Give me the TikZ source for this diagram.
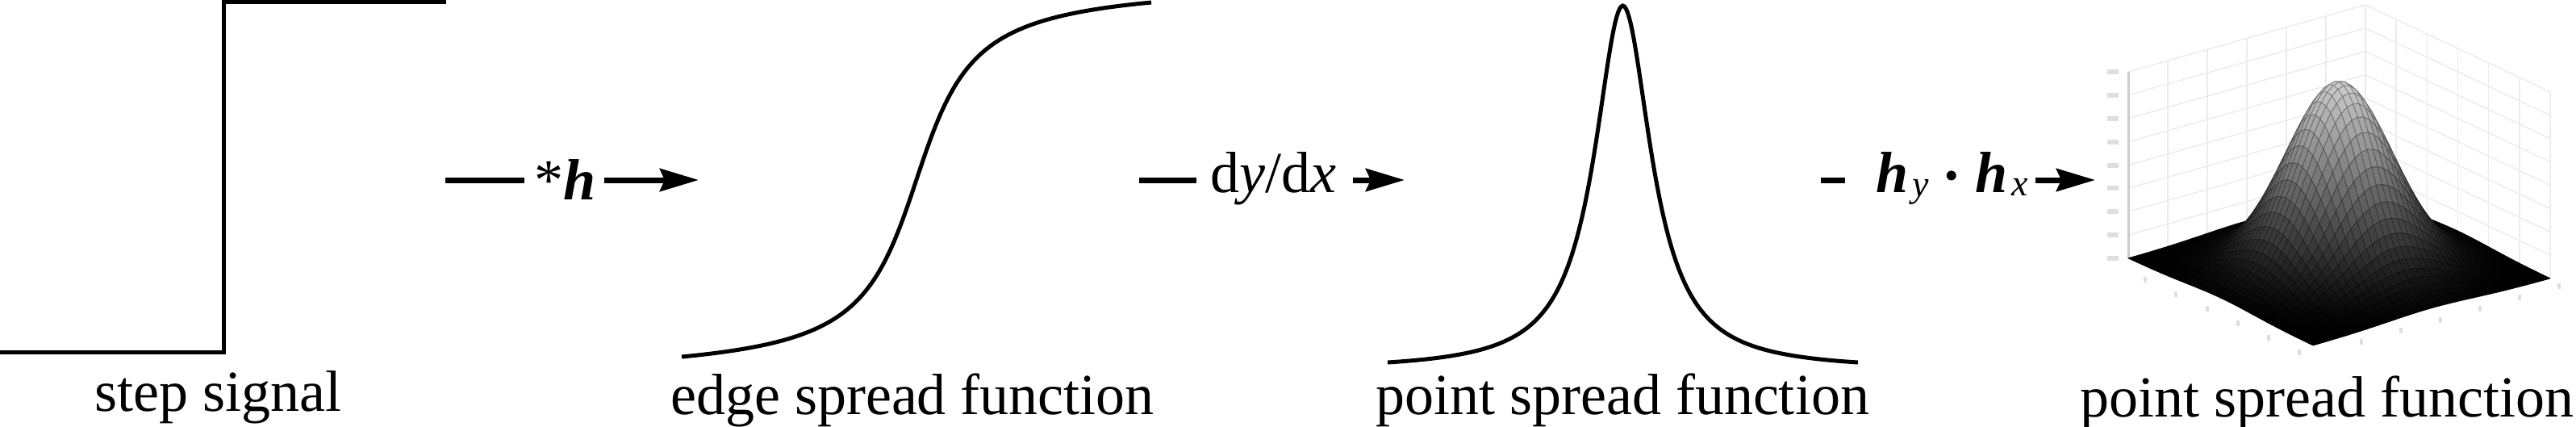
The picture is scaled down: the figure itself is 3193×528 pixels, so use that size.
\documentclass[tikz,border=0pt]{standalone}
\usepackage{fontspec}
\setmainfont{Liberation Serif}
\usetikzlibrary{arrows.meta}
\begin{document}
\begin{tikzpicture}[x=1pt,y=-1pt,
  curve/.style={line width=5pt, line join=miter},
  conn/.style={line width=7pt},
  connarrow/.style={line width=7pt, -{Stealth[length=48pt,width=28pt,inset=6pt]}},
  caption/.style={font=\fontsize{72}{80}\selectfont, anchor=base, inner sep=0pt},
  oplabel/.style={font=\fontsize{72}{80}\selectfont, anchor=base west, inner sep=0pt},
  wallgrid/.style={line width=1.5pt, draw={rgb,255:red,236;green,236;blue,236}},
  zaxis/.style={line width=3pt, draw={rgb,255:red,205;green,205;blue,205}},
  ticklab/.style={fill={rgb,255:red,222;green,222;blue,222}},
]
\useasboundingbox (0,0) rectangle (3193,528);

% ---------- step signal ----------
\draw[curve] (0,436) -- (277,436) -- (277,2.5) -- (553,2.5);
\node[caption] (capstep) at (270,509) {step signal};

% ---------- arrow 1 : *h ----------
\node[oplabel] (op1) at (662,247) {*\textbf{\textit{h}}};
\coordinate (a1s) at (552,223);
\coordinate (a1m) at (650,223);
\coordinate (a1n) at (749,223);
\coordinate (a1e) at (866,223);
\draw[conn] (a1s) -- (a1m);
\draw[connarrow] (a1n) -- (a1e);

% ---------- edge spread function ----------
\draw[curve] plot[domain=-291:291, samples=160]
  ({1136+(\x)},{222.5-219.5*(atan(0.019*(\x))/atan(0.019*291))});
\node[caption] (capesf) at (1131,513) {edge spread function};

% ---------- arrow 2 : dy/dx ----------
\node[oplabel] (op2) at (1500,238) {d\textit{y}/d\textit{x}};
\coordinate (a2s) at (1412,223);
\coordinate (a2m) at (1483,223);
\coordinate (a2n) at (1677,223);
\coordinate (a2e) at (1741,223);
\draw[conn] (a2s) -- (a2m);
\draw[connarrow] (a2n) -- (a2e);

% ---------- point spread function (1D) ----------
\draw[curve] plot[domain=-291.5:291.5, samples=301]
  ({2011.5+(\x)},{449-442*((1/(1+((\x)/43)*((\x)/43))-0.0213)/(1-0.0213))});
\node[caption] (cappsf) at (2011,513) {point spread function};

% ---------- arrow 3 : h_y . h_x ----------
\node[oplabel] (op3) at (2325,238) {\textbf{\textit{h}}\kern5pt\raisebox{-5pt}{\fontsize{46}{50}\selectfont\textit{y}}\kern20pt\raisebox{4pt}{\fontsize{50}{50}\selectfont\textbullet}\kern20pt\textbf{\textit{h}}\kern5pt\raisebox{-4pt}{\fontsize{46}{50}\selectfont\textit{x}}};
\coordinate (a3s) at (2257,223);
\coordinate (a3m) at (2287,223);
\coordinate (a3n) at (2523,223);
\coordinate (a3e) at (2597,223);
\draw[conn] (a3s) -- (a3m);
\draw[connarrow] (a3n) -- (a3e);

% ---------- point spread function (2D surface) ----------
\begin{scope}[shift={(2932,237)}, x={(-294pt,-83pt)}, y={(229pt,-108pt)}, z={(0pt,231pt)}]
  % back walls grid
  \foreach \k in {0,...,5} \draw[wallgrid] ({\k/6},0,0) -- ({\k/6},0,1);
  \foreach \k in {1,...,6} \draw[wallgrid] (0,{\k/6},0) -- (0,{\k/6},1);
  \foreach \m in {0,...,8} \draw[wallgrid] (1,0,{\m/8}) -- (0,0,{\m/8}) -- (0,1,{\m/8});
  \draw[zaxis] (1,0,0) -- (1,0,1);
  % tick label marks
  \foreach \m in {0,...,8} \fill[ticklab] ([xshift=-26pt,yshift=-3pt]1,0,{\m/8}) rectangle ++(14pt,6pt);
  \foreach \k in {1,...,6} \fill[ticklab] ([xshift=-19pt,yshift=-12pt]1,{\k/6},0) rectangle ++(4pt,7pt);
  \foreach \k in {0,...,5} \fill[ticklab] ([xshift=9pt,yshift=-13pt]{\k/6},1,0) rectangle ++(4pt,7pt);
  % gaussian profile
  \foreach \k in {0,...,40}{%
    \pgfmathsetmacro\tt{\k/40-0.5}%
    \pgfmathsetmacro\gv{exp(-(\tt)*(\tt)/0.0648)}%
    \expandafter\xdef\csname gg\k\endcsname{\gv}%
  }
  \foreach \i in {0,...,39}{%
    \foreach \j in {0,...,39}{%
      \pgfmathtruncatemacro\ip{\i+1}%
      \pgfmathtruncatemacro\jp{\j+1}%
      \edef\gia{\csname gg\i\endcsname}\edef\gib{\csname gg\ip\endcsname}%
      \edef\gja{\csname gg\j\endcsname}\edef\gjb{\csname gg\jp\endcsname}%
      \pgfmathsetmacro\ha{\gia*\gja}%
      \pgfmathsetmacro\hb{\gib*\gja}%
      \pgfmathsetmacro\hc{\gib*\gjb}%
      \pgfmathsetmacro\hd{\gia*\gjb}%
      \pgfmathsetmacro\cf{min(1,0.2*(\ha+\hb+\hc+\hd))}%
      \pgfmathsetmacro\ce{0.13*(\ha+\hb+\hc+\hd)}%
      \pgfmathsetmacro\ua{\i/40}\pgfmathsetmacro\ub{\ip/40}%
      \pgfmathsetmacro\va{\j/40}\pgfmathsetmacro\vb{\jp/40}%
      \definecolor{pf}{gray}{\cf}\definecolor{pe}{gray}{\ce}%
      \filldraw[fill=pf, draw=pe, line width=0.8pt, line join=round]
        (\ua,\va,\ha) -- (\ub,\va,\hb) -- (\ub,\vb,\hc) -- (\ua,\vb,\hd) -- cycle;
    }%
  }
\end{scope}
\node[caption] (cappsf2) at (2884,516) {point spread function};
\end{tikzpicture}
\end{document}
